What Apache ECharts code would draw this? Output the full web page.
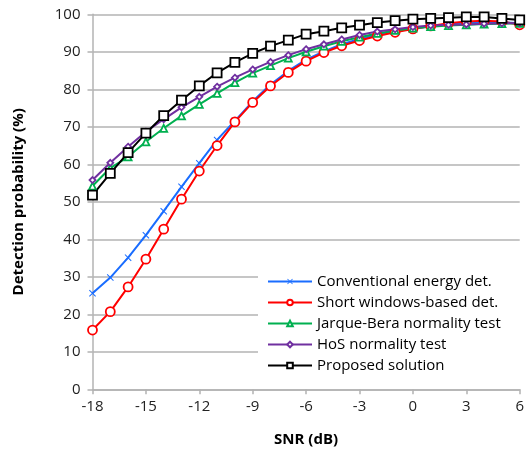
<!DOCTYPE html>
<html>
<head>
<meta charset="utf-8">
<script src="https://cdn.jsdelivr.net/npm/echarts@6/dist/echarts.min.js"></script>
<style>
  html, body { margin: 0; padding: 0; background: #fff; }
  #chart { width: 527px; height: 457px; }
</style>
</head>
<body>
<div id="chart"></div>
<script>
// SNR values (dB)
var snr = [-18, -17, -16, -15, -14, -13, -12, -11, -10, -9, -8, -7, -6, -5, -4, -3, -2, -1, 0, 1, 2, 3, 4, 5, 6];

// detection probability (%) per method
var conventional = [25.6, 29.8, 35.1, 41.1, 47.5, 54.0, 60.3, 66.5, 71.6, 76.8, 81.3, 84.9, 87.9, 90.1, 92.0, 93.4, 94.6, 95.5, 96.2, 96.8, 97.3, 97.7, 97.9, 97.9, 97.6];
var shortWin = [15.8, 20.7, 27.3, 34.7, 42.7, 50.7, 58.2, 65.0, 71.3, 76.5, 80.9, 84.5, 87.5, 89.8, 91.6, 93.0, 94.2, 95.2, 96.1, 96.9, 97.6, 98.1, 98.3, 98.1, 97.2];
var jarqueBera = [54.2, 59.0, 62.0, 66.0, 69.6, 72.9, 76.0, 78.9, 81.8, 84.3, 86.3, 88.3, 90.0, 91.5, 92.8, 93.9, 94.9, 95.7, 96.3, 96.7, 97.0, 97.2, 97.4, 97.5, 97.6];
var hos = [55.8, 60.4, 64.7, 68.7, 72.0, 75.2, 78.0, 80.7, 83.1, 85.3, 87.3, 89.1, 90.7, 92.0, 93.3, 94.5, 95.4, 96.0, 96.6, 97.0, 97.2, 97.3, 97.5, 97.6, 97.7];
var proposed = [51.8, 57.6, 63.1, 68.3, 73.0, 77.1, 80.9, 84.4, 87.2, 89.6, 91.5, 93.1, 94.7, 95.5, 96.4, 97.1, 97.8, 98.3, 98.7, 98.9, 99.1, 99.3, 99.3, 98.9, 98.5];

var names = ['Conventional energy det.', 'Short windows-based det.', 'Jarque-Bera normality test', 'HoS normality test', 'Proposed solution'];

var font = '"Open Sans", "Liberation Sans", sans-serif';
var gridColor = '#b3b3b3';
var crossPath = 'path://M1,0L5,4L9,0L10,1L6,5L10,9L9,10L5,6L1,10L0,9L4,5L0,1Z';

function pairs(vals) {
  return snr.map(function(x, i) { return [x, vals[i]]; });
}

function makeSeries(name, vals, color, symbol, size, filled) {
  return {
    name: name,
    type: 'line',
    data: pairs(vals),
    symbol: symbol,
    symbolSize: size,
    showAllSymbol: true,
    lineStyle: { color: color, width: 2 },
    itemStyle: filled ? { color: color, borderWidth: 0 } : { color: '#fff', borderColor: color, borderWidth: 1.8 },
    animation: false
  };
}

var chart = echarts.init(document.getElementById('chart'));
chart.setOption({
  backgroundColor: '#fff',
  animation: false,
  grid: { left: 92.5, right: 6.5, top: 14.3, bottom: 67.7 },
  xAxis: {
    type: 'value', min: -18, max: 6, interval: 3,
    name: 'SNR (dB)', nameLocation: 'middle', nameGap: 43,
    nameTextStyle: { fontFamily: font, fontSize: 15, fontWeight: 'bold', color: '#000' },
    axisLine: { onZero: false, lineStyle: { color: gridColor, width: 1.5 } },
    axisTick: { show: true, length: 5, lineStyle: { color: gridColor, width: 1.5 } },
    axisLabel: { fontFamily: font, fontSize: 15, color: '#222', margin: 10 },
    splitLine: { show: false }
  },
  yAxis: {
    type: 'value', min: 0, max: 100, interval: 10,
    name: 'Detection probability (%)', nameLocation: 'middle', nameGap: 66, nameRotate: 90,
    nameTextStyle: { fontFamily: font, fontSize: 15, fontWeight: 'bold', color: '#000' },
    axisLine: { show: true, onZero: false, lineStyle: { color: gridColor, width: 1.5 } },
    axisTick: { show: true, length: 5, lineStyle: { color: gridColor, width: 1.5 } },
    axisLabel: { fontFamily: font, fontSize: 15, color: '#222', margin: 12 },
    splitLine: { lineStyle: { color: gridColor, width: 1.5 } }
  },
  legend: {
    orient: 'vertical',
    left: 258, top: 269,
    padding: [5, 20, 5, 9],
    backgroundColor: '#fff',
    itemWidth: 44, itemHeight: 7, itemGap: 6,
    textStyle: { fontFamily: font, fontSize: 15, color: '#000' },
    data: names
  },
  series: [
    makeSeries(names[0], conventional, '#1a6dff', crossPath, 7, true),
    makeSeries(names[1], shortWin, '#ff0000', 'circle', 9, false),
    makeSeries(names[2], jarqueBera, '#00b050', 'triangle', 7, false),
    makeSeries(names[3], hos, '#7030a0', 'diamond', 6, false),
    makeSeries(names[4], proposed, '#000000', 'rect', 9, false)
  ]
});
</script>
</body>
</html>
